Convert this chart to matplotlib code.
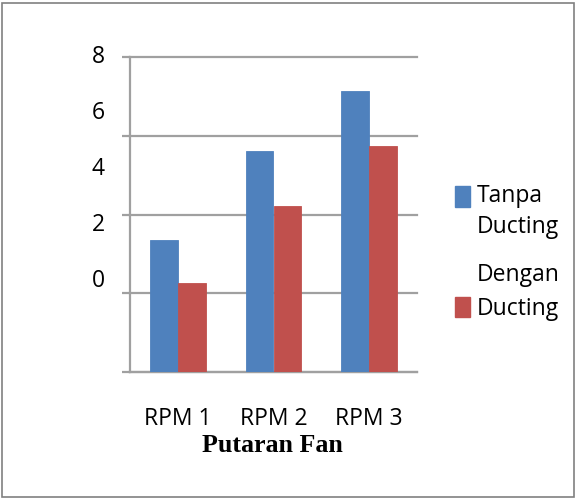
import matplotlib.pyplot as plt
import numpy as np
from matplotlib.patches import Rectangle

categories = ["RPM 1", "RPM 2", "RPM 3"]
series_names = ["Tanpa\nDucting", "Dengan\nDucting"]
tanpa = [3.35, 5.61, 7.13]
dengan = [2.26, 4.21, 5.74]
ytick_vals = [0, 2, 4, 6, 8]
ytick_labels = ["8", "6", "4", "2", "0"]  # labels as shown (offset from gridlines)
colors = ["#4F81BD", "#C0504D"]

fig = plt.figure(figsize=(5.77, 4.99), dpi=100)
ax = fig.add_axes([130 / 577, 1 - 372 / 499, 287 / 577, 315 / 499])

x = np.arange(len(categories))
w = 0.29
ax.bar(x - w / 2, tanpa, w, color=colors[0], zorder=3, linewidth=0.6, edgecolor=colors[0])
ax.bar(x + w / 2, dengan, w, color=colors[1], zorder=3, linewidth=0.6, edgecolor=colors[1])

ax.set_xlim(-0.5, 2.5)
ax.set_ylim(0, 8)
ax.set_yticks(ytick_vals)
ax.set_yticklabels([])
for v in ytick_vals:
    ax.axhline(v, color="#a0a0a0", linewidth=1.6, zorder=0, clip_on=False)
ax.tick_params(axis="y", length=6, width=1.6, color="#a0a0a0")
ax.tick_params(axis="x", length=0, pad=25, labelsize=16.5)
ax.set_xticks(x)
ax.set_xticklabels(categories, fontfamily="Open Sans")
for s in ["top", "right"]:
    ax.spines[s].set_visible(False)
for s in ["left", "bottom"]:
    ax.spines[s].set_color("#a0a0a0")
    ax.spines[s].set_linewidth(1.6)

# y labels drawn where the original rendering put them
label_px = [57, 113, 169, 225, 281]
for lab, py in zip(ytick_labels, label_px):
    fig.text(105 / 577, 1 - py / 499, lab, ha="right", va="center",
             fontsize=16.5, fontfamily="Open Sans")

fig.text(272 / 577, 1 - 452 / 499, "Putaran Fan", ha="center", va="baseline",
         fontsize=18.7, fontweight="bold", fontfamily="Liberation Serif")

# legend
fig.patches.append(Rectangle((455 / 577, 1 - 207 / 499), 15 / 577, 21 / 499,
                             transform=fig.transFigure, color=colors[0]))
fig.patches.append(Rectangle((455 / 577, 1 - 317 / 499), 15 / 577, 20 / 499,
                             transform=fig.transFigure, color=colors[1]))
baselines = [[202, 233], [281, 315]]
for name, bls in zip(series_names, baselines):
    for line, by in zip(name.split("\n"), bls):
        fig.text(477 / 577, 1 - by / 499, line, ha="left", va="baseline",
                 fontsize=16.5, fontfamily="Open Sans")

# outer frame
fig.patches.append(Rectangle((2 / 577, 2 / 499), 572 / 577, 494 / 499,
                             transform=fig.transFigure, fill=False,
                             edgecolor="#808080", linewidth=1.2))

fig.savefig("out.png", dpi=100)
